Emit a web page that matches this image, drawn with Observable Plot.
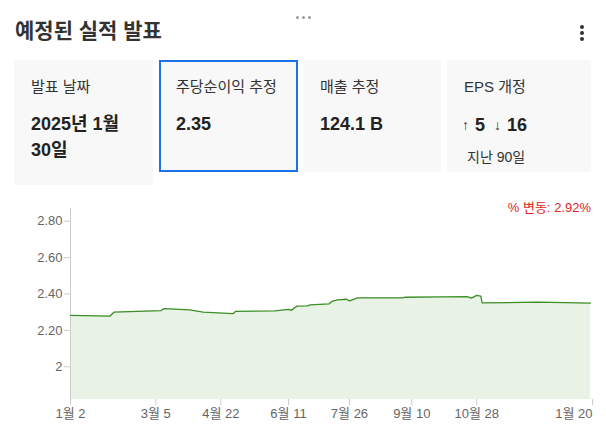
<!DOCTYPE html>
<html><head><meta charset="utf-8">
<script src="https://cdn.jsdelivr.net/npm/d3@7"></script>
<script src="https://cdn.jsdelivr.net/npm/@observablehq/plot@0.6"></script>
<style>
body{margin:0;background:#fff;font-family:"Liberation Sans",Arial,"Noto Sans CJK KR",sans-serif;color:#333;}
#root{position:relative;width:606px;height:440px;overflow:hidden;background:#fff;}
.abs{position:absolute;white-space:nowrap;line-height:1;}
.card{position:absolute;background:#f8f8f8;box-sizing:border-box;}
.lbl{font-size:15px;color:#333;}
.val{font-size:18px;font-weight:bold;color:#222;}
.dot{position:absolute;width:4px;height:4px;border-radius:50%;background:#333;}
.ddot{position:absolute;width:3px;height:3px;border-radius:50%;background:#999;}
.arr{font-size:14px;color:#333;display:inline-block;margin-right:6px;position:relative;top:-1px;}
#chart{position:absolute;left:0;top:195px;}
</style></head>
<body><div id="root"></div>
<script>
// ---- data ----
const title = "예정된 실적 발표";
const cardLabels = ["발표 날짜", "주당순이익 추정", "매출 추정", "EPS 개정"];
const cardValues = ["2025년 1월<br>30일", "2.35", "124.1 B", ""];
const revisionsUp = 5;
const revisionsDown = 16;
const revisionNote = "지난 90일";
const changeText = "% 변동: 2.92%";

const dates = ["2024-01-02","2024-01-31","2024-02-03","2024-03-09","2024-03-11","2024-03-30","2024-04-09","2024-05-01","2024-05-03","2024-06-01","2024-06-11","2024-06-13","2024-06-17","2024-06-25","2024-06-27","2024-07-11","2024-07-13","2024-07-17","2024-07-24","2024-07-26","2024-08-01","2024-09-03","2024-09-05","2024-10-02","2024-10-21","2024-10-24","2024-10-28","2024-10-31","2024-11-01","2024-12-12","2025-01-20"];
const eps = [2.283,2.278,2.300,2.309,2.320,2.313,2.300,2.292,2.305,2.307,2.316,2.310,2.333,2.335,2.340,2.346,2.359,2.368,2.371,2.362,2.379,2.379,2.382,2.384,2.386,2.377,2.392,2.388,2.351,2.355,2.350];
const xTickDates = ["2024-01-02","2024-03-05","2024-04-22","2024-06-11","2024-07-26","2024-09-10","2024-10-28","2025-01-20"];
const yTicks = [2, 2.2, 2.4, 2.6, 2.8];
const yDomain = [1.82, 2.87];

// ---- header & cards ----
const root = document.getElementById("root");
function el(cls, html, style){const d=document.createElement("div");d.className=cls;d.innerHTML=html;Object.assign(d.style,style||{});root.appendChild(d);return d;}
el("abs", title, {left:"15px", top:"20px", fontSize:"21px", fontWeight:"bold", color:"#333"});
[296,302,308].forEach(x=>el("ddot","",{left:x+"px",top:"16px"}));
[25,31,37].forEach(y=>el("dot","",{left:"580px",top:y+"px"}));

const cards = [
  {x:14, w:139, h:125},
  {x:159, w:139, h:112, border:true},
  {x:303, w:138, h:112},
  {x:447, w:144, h:112}
];
cards.forEach((c,i)=>{
  el("card","",{left:c.x+"px",top:"60px",width:c.w+"px",height:c.h+"px",border:c.border?"2px solid #1a73e8":"none"});
  el("abs lbl", cardLabels[i], {left:(c.x+17)+"px", top:"79px"});
  if(cardValues[i]) el("abs val", cardValues[i], {left:(c.x+17)+"px", top:"115px", lineHeight:"26px", marginTop:"-4px"});
});
el("abs", `<span class="arr">&#8593;</span><b style="font-size:18px;color:#222">${revisionsUp}</b><span style="display:inline-block;width:9px"></span><span class="arr">&#8595;</span><b style="font-size:18px;color:#222">${revisionsDown}</b>`, {left:"462px", top:"116px"});
el("abs", revisionNote, {left:"467px", top:"150px", fontSize:"14px", color:"#333"});
el("abs", changeText, {right:"15px", top:"201px", fontSize:"13px", color:"#e0261f"});

// ---- chart ----
const data = dates.map((d,i)=>({date:new Date(d+"T00:00:00Z"), value:eps[i]}));
const tickDates = xTickDates.map(d=>new Date(d+"T00:00:00Z"));
const fmt = d => `${d.getUTCMonth()+1}월 ${d.getUTCDate()}`;
const yFmt = d => d === 2 ? "2" : d.toFixed(2);
const chart = Plot.plot({
  width:606, height:245,
  marginLeft:70, marginRight:16, marginTop:13, marginBottom:41,
  style:{fontFamily:'"Liberation Sans",Arial,"Noto Sans CJK KR",sans-serif', fontSize:"13px", background:"transparent", color:"#666"},
  x:{type:"utc", domain:[tickDates[0], tickDates[tickDates.length-1]], label:null},
  y:{domain:yDomain, label:null},
  marks:[
    Plot.areaY(data,{x:"date", y1:yDomain[0], y2:"value", fill:"#e8f3e5"}),
    Plot.ruleX([tickDates[0]],{y1:yDomain[0], y2:yDomain[1], stroke:"#ccc"}),
    Plot.lineY(data,{x:"date", y:"value", stroke:"#3a8f26", strokeWidth:1.3}),
    Plot.axisY(yTicks,{tickSize:6, tickPadding:2, stroke:"#ccc", fill:"#666", tickFormat:yFmt, label:null}),
    Plot.axisX(tickDates.slice(0,-1),{tickSize:6, tickPadding:3, stroke:"#ccc", fill:"#666", tickFormat:fmt, label:null}),
    Plot.axisX(tickDates.slice(-1),{tickSize:6, tickPadding:3, stroke:"#ccc", fill:"#666", tickFormat:fmt, textAnchor:"end", dx:2, label:null})
  ]
});
chart.id = "chart";
root.appendChild(chart);
</script>
</body></html>
